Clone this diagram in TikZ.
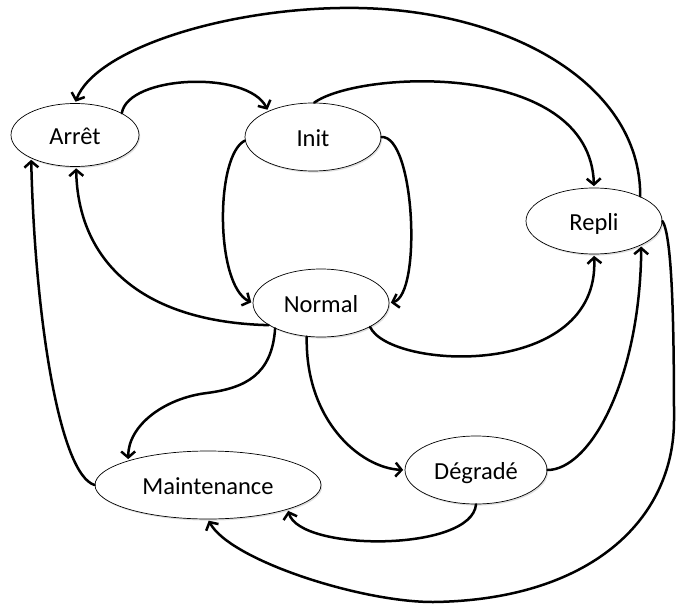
\documentclass[tikz,border=0pt]{standalone}
\usepackage{fontspec}
\setmainfont{Carlito}
\usetikzlibrary{shapes.geometric,arrows.meta,shadows}
\begin{document}
\begin{tikzpicture}[x=1pt,y=-1pt,
  state/.style={ellipse, draw=black, line width=0.7pt, fill=white, inner sep=0pt,
    font=\fontsize{24.5}{29}\selectfont, text height=20pt, text depth=1pt,
    drop shadow={shadow xshift=1.2pt, shadow yshift=-1.6pt, opacity=0.25}},
  trans/.style={line width=2.5pt, line cap=round,
    -{Straight Barb[length=6pt,width=14pt]}, shorten >=1.5pt}]
\useasboundingbox (0,0) rectangle (676,604);

% states
\node[state, minimum width=128pt, minimum height=63pt] (arret)   at (75,135)  {Arrêt};
\node[state, minimum width=136pt, minimum height=68pt] (init)    at (313,137) {Init};
\node[state, minimum width=136pt, minimum height=66pt] (repli)   at (594,221) {Repli};
\node[state, minimum width=136pt, minimum height=68pt] (normal)  at (321,303) {Normal};
\node[state, minimum width=142pt, minimum height=68pt] (degrade) at (476,470) {Dégradé};
\node[state, minimum width=226pt, minimum height=68pt] (maint)   at (208,485) {Maintenance};

% transitions
\draw[trans] (repli.28) .. controls (641,80) and (500,5) .. (340,8)
                        .. controls (220,10) and (95,50) .. (arret.north);
\draw[trans] (arret.25) .. controls (128,75) and (248,70) .. (init.150);
\draw[trans] (init.88) .. controls (360,70) and (590,60) .. (repli.north);
\draw[trans] (init.183) .. controls (215,155) and (215,285) .. (normal.west);
\draw[trans] (init.east) .. controls (415,135) and (422,295) .. (normal.east);
\draw[trans] (normal.203) .. controls (140,322) and (78,260) .. (arret.-88);
\draw[trans] (maint.west) .. controls (60,475) and (35,320) .. (arret.208);
\draw[trans] (normal.209) .. controls (272,375) and (245,388) .. (207,393)
                          .. controls (165,398) and (128,425) .. (maint.163);
\draw[trans] (normal.247) .. controls (305,420) and (360,468) .. (degrade.west);
\draw[trans] (normal.-26) .. controls (390,370) and (600,380) .. (repli.south);
\draw[trans] (degrade.east) .. controls (590,470) and (640,380) .. (repli.-27);
\draw[trans] (degrade.south) .. controls (472,552) and (300,552) .. (maint.-17);
\draw[trans] (repli.east) .. controls (672,235) and (674,320) .. (674,420)
                          .. controls (674,520) and (590,600) .. (433,602)
                          .. controls (360,602) and (230,560) .. (maint.south);
\end{tikzpicture}
\end{document}
